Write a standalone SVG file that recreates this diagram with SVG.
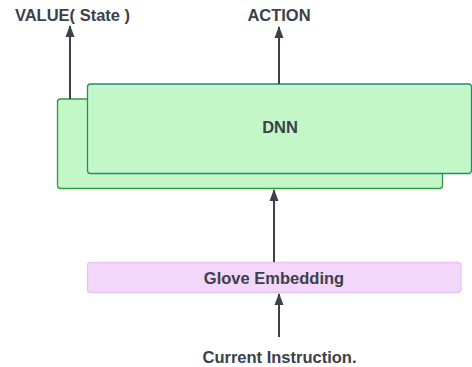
<svg xmlns="http://www.w3.org/2000/svg" width="472" height="367" viewBox="0 0 472 367">
<style>
.t{font-family:"Liberation Sans",Arial,sans-serif;font-weight:bold;font-size:16.5px;fill:#3b4049;text-anchor:middle}
.c{stroke:#3b4049;stroke-width:2;fill:none}
</style>
<defs>
<marker id="ah" viewBox="0 0 12 10" refX="11" refY="5" markerWidth="12" markerHeight="10" orient="auto" markerUnits="userSpaceOnUse">
<path d="M0,0.5 L12,5 L0,9.5 Z" fill="#3b4049"/>
</marker>
</defs>
<rect width="472" height="367" fill="#ffffff"/>
<g id="dnn-back">
<rect x="57.5" y="99" width="385" height="89.5" rx="3" fill="#c3f7c8" stroke="#2b9e3c" stroke-width="1.3"/>
</g>
<g id="dnn">
<rect x="87.5" y="84" width="384" height="89.5" rx="3" fill="#c3f7c8" stroke="#1e8c76" stroke-width="1.3"/>
<text class="t" x="280" y="132.5">DNN</text>
</g>
<g id="glove">
<rect x="87.5" y="262.5" width="373.5" height="30" rx="3" fill="#f2d7fb" stroke="#e8c2f4" stroke-width="1.3"/>
<text class="t" x="274" y="284">Glove Embedding</text>
</g>
<g id="value-label"><text class="t" x="72.5" y="21">VALUE( State )</text></g>
<g id="action-label"><text class="t" x="279" y="21">ACTION</text></g>
<g id="instruction-label"><text class="t" x="279.5" y="363">Current Instruction.</text></g>
<g id="connectors">
<line class="c" x1="70" y1="99" x2="70" y2="26" marker-end="url(#ah)"/>
<line class="c" x1="279" y1="84" x2="279" y2="27" marker-end="url(#ah)"/>
<line class="c" x1="274" y1="262" x2="274" y2="190" marker-end="url(#ah)"/>
<line class="c" x1="279" y1="337" x2="279" y2="294" marker-end="url(#ah)"/>
</g>
</svg>
